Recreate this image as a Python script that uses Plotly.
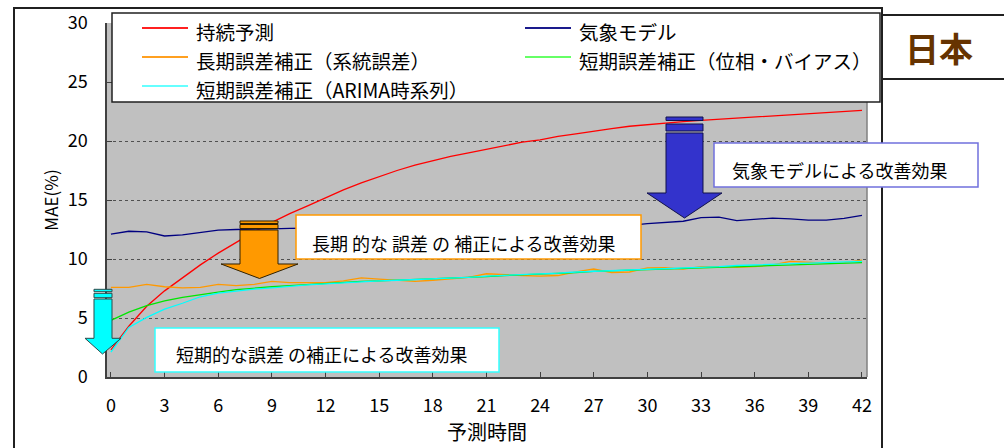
import plotly.graph_objects as go

# ---------------- data ----------------
hours = list(range(43))
x_tick_labels = [0, 3, 6, 9, 12, 15, 18, 21, 24, 27, 30, 33, 36, 39, 42]
y_tick_labels = [0, 5, 10, 15, 20, 25, 30]

series_names = ["持続予測", "気象モデル", "長期誤差補正（系統誤差）",
                "短期誤差補正（位相・バイアス）", "短期誤差補正（ARIMA時系列）"]

persistence = [2.3, 4.3, 6.0, 7.3, 8.4, 9.5, 10.5, 11.4, 12.3, 13.1,
               13.85, 14.5, 15.2, 15.85, 16.45, 17.0, 17.5, 17.95, 18.35, 18.7,
               19.0, 19.3, 19.6, 19.9, 20.1, 20.4, 20.6, 20.85, 21.05, 21.25,
               21.4, 21.55, 21.65, 21.75, 21.85, 21.95, 22.0, 22.1, 22.2, 22.3,
               22.4, 22.5, 22.6]
weather_model = [12.1, 12.35, 12.3, 11.95, 12.05, 12.25, 12.45, 12.5, 12.5, 12.55,
                 12.6, 12.6, 12.65, 12.65, 12.7, 12.7, 12.7, 12.75, 12.75, 12.75,
                 12.8, 12.8, 12.8, 12.8, 12.85, 12.85, 12.85, 12.85, 12.85, 12.85,
                 13.0, 13.1, 13.2, 13.5, 13.55, 13.25, 13.35, 13.47, 13.4, 13.3,
                 13.3, 13.45, 13.7]
long_term_corr = [7.6, 7.6, 7.85, 7.65, 7.55, 7.6, 7.85, 7.75, 7.85, 8.1,
                  8.0, 8.0, 8.0, 8.15, 8.4, 8.3, 8.2, 8.1, 8.2, 8.3,
                  8.45, 8.75, 8.65, 8.6, 8.55, 8.6, 8.9, 9.15, 8.85, 8.9,
                  9.25, 9.27, 9.15, 9.35, 9.35, 9.3, 9.35, 9.5, 9.8, 9.75,
                  9.65, 9.7, 9.9]
short_phase_bias = [4.8, 5.5, 6.05, 6.45, 6.75, 7.0, 7.2, 7.4, 7.55, 7.65,
                    7.75, 7.85, 7.95, 8.0, 8.1, 8.15, 8.2, 8.25, 8.3, 8.4,
                    8.45, 8.5, 8.6, 8.65, 8.7, 8.75, 8.85, 8.95, 9.0, 9.05,
                    9.15, 9.2, 9.25, 9.3, 9.35, 9.4, 9.45, 9.5, 9.55, 9.6,
                    9.65, 9.65, 9.7]
short_arima = [2.1, 4.2, 5.05, 5.75, 6.25, 6.8, 7.1, 7.3, 7.45, 7.55,
               7.7, 7.8, 7.9, 8.0, 8.1, 8.15, 8.2, 8.25, 8.3, 8.4,
               8.45, 8.55, 8.6, 8.65, 8.7, 8.8, 8.9, 8.95, 9.0, 9.1,
               9.15, 9.2, 9.25, 9.3, 9.35, 9.45, 9.5, 9.55, 9.6, 9.65,
               9.7, 9.75, 9.8]

series_values = [persistence, weather_model, long_term_corr, short_phase_bias, short_arima]
series_colors = ["#ff0000", "#000080", "#ff9900", "#00e600", "#00ffff"]
legend_swatch_colors = ["#ff2020", "#1a1a8c", "#ffa020", "#66ff66", "#66ffff"]

note_weather = "気象モデルによる改善効果"
note_long = "長期 的な 誤差 の 補正による改善効果"
note_short = "短期的な誤差 の補正による改善効果"
region_label = "日本"

# ---------------- layout helpers (pixel -> paper) ----------------
L, R, T, B = 107, 867, 23, 377
W, H = R - L, B - T


def px(x):
    return (x - L) / W


def py(y):
    return (B - y) / H


def path(pts):
    return "M " + " L ".join(f"{px(a):.5f},{py(b):.5f}" for a, b in pts) + " Z"


FONT = "Noto Sans CJK JP"

fig = go.Figure()
for name, vals, col in zip(series_names, series_values, series_colors):
    fig.add_trace(go.Scatter(x=hours, y=vals, mode="lines", name=name,
                             line=dict(color=col, width=1.3), showlegend=False))

shapes = []
annotations = []
# outer frame
shapes.append(dict(type="path", xref="paper", yref="paper",
                   path=f"M {px(14)},{py(470)} L {px(14)},{py(8)} L {px(882)},{py(8)} L {px(882)},{py(470)}",
                   line=dict(color="#202020", width=2), fillcolor="rgba(0,0,0,0)"))
# region label box lines
for yy in (15, 79):
    shapes.append(dict(type="line", xref="paper", yref="paper",
                       x0=px(882), x1=px(1010), y0=py(yy), y1=py(yy),
                       line=dict(color="#202020", width=2)))
# plot area right border
shapes.append(dict(type="line", xref="paper", yref="paper", x0=1, x1=1, y0=0, y1=1,
                   line=dict(color="#808080", width=1.5)))

# legend (drawn box, swatches and labels)
shapes.append(dict(type="rect", xref="paper", yref="paper",
                   x0=px(112), x1=px(880), y0=py(102), y1=py(13),
                   fillcolor="white", line=dict(color="#202020", width=1.5)))
legend_slots = [(142, 28, 31), (525, 28, 31), (142, 57, 60.5), (525, 57, 60.5), (142, 86, 90)]
for (lx, ly, ty), name, col in zip(legend_slots, series_names, legend_swatch_colors):
    shapes.append(dict(type="line", xref="paper", yref="paper",
                       x0=px(lx), x1=px(lx + 46), y0=py(ly), y1=py(ly),
                       line=dict(color=col, width=2)))
    annotations.append(dict(text=name, x=px(lx + 52), y=py(ty), xref="paper", yref="paper",
                            showarrow=False, xanchor="left", yanchor="middle",
                            font=dict(size=19.5, family=FONT, color="black")))

# text boxes
shapes.append(dict(type="rect", xref="paper", yref="paper",
                   x0=px(714), x1=px(978), y0=py(187), y1=py(143),
                   fillcolor="white", line=dict(color="#7070dd", width=1.5)))
shapes.append(dict(type="rect", xref="paper", yref="paper",
                   x0=px(296), x1=px(641), y0=py(259), y1=py(215),
                   fillcolor="white", line=dict(color="#ff9900", width=1.5)))
shapes.append(dict(type="rect", xref="paper", yref="paper",
                   x0=px(155), x1=px(499), y0=py(372), y1=py(328),
                   fillcolor="white", line=dict(color="#33ffff", width=1.5)))


def arrow(xl, xr, s1, s2, top, head_y, hl, hr, tip, fill, edge):
    out = []
    for (a, b) in (s1, s2):
        out.append(dict(type="path", xref="paper", yref="paper",
                        path=path([(xl, a), (xr, a), (xr, b), (xl, b)]),
                        fillcolor=fill, line=dict(color=edge, width=1)))
    out.append(dict(type="path", xref="paper", yref="paper",
                    path=path([(xl, top), (xr, top), (xr, head_y), (hr, head_y),
                               tip, (hl, head_y), (xl, head_y)]),
                    fillcolor=fill, line=dict(color=edge, width=1)))
    return out


shapes += arrow(666, 703, (117, 120.5), (124, 131), 133, 193, 647, 722, (684.5, 218), "#3333cc", "#10104a")
shapes += arrow(240, 278, (221, 223.5), (224.5, 228.5), 230, 264, 221, 298, (259.5, 278.5), "#ff9900", "#302000")
shapes += arrow(94, 112, (289.3, 291.7), (293.3, 297.7), 299, 338.3, 85, 121, (102.5, 354), "#00ffff", "#2a4a4a")

annotations += [
    dict(text=note_weather, x=px(839), y=py(170), xref="paper", yref="paper",
         showarrow=False, xanchor="center", yanchor="middle", font=dict(size=18, family=FONT, color="black")),
    dict(text=note_long, x=px(464), y=py(242.5), xref="paper", yref="paper",
         showarrow=False, xanchor="center", yanchor="middle", font=dict(size=18, family=FONT, color="black")),
    dict(text=note_short, x=px(321.5), y=py(354), xref="paper", yref="paper",
         showarrow=False, xanchor="center", yanchor="middle", font=dict(size=18, family=FONT, color="black")),
    dict(text=region_label, x=px(939), y=py(47.5), xref="paper", yref="paper",
         showarrow=False, xanchor="center", yanchor="middle",
         font=dict(size=34, family=FONT, color="#663300", weight="bold")),
]

fig.update_layout(
    width=1004, height=448,
    margin=dict(l=L, r=1004 - R, t=T, b=448 - B, autoexpand=False),
    paper_bgcolor="white", plot_bgcolor="#c0c0c0",
    font=dict(family=FONT, color="black"),
    showlegend=False,
    shapes=shapes, annotations=annotations,
    xaxis=dict(range=[-0.22, 42.28], tickvals=x_tick_labels, ticktext=[str(v) for v in x_tick_labels],
               ticks="inside", ticklen=5, tickcolor="#404040", showgrid=False,
               showline=True, linecolor="#404040", linewidth=1.5, zeroline=False,
               tickfont=dict(size=18), ticklabelstandoff=12, automargin=False,
               title=dict(text="予測時間", font=dict(size=20), standoff=10)),
    yaxis=dict(range=[0, 30], tickvals=y_tick_labels, ticktext=[str(v) for v in y_tick_labels],
               ticks="inside", ticklen=5, tickcolor="#404040",
               showgrid=True, gridcolor="#505050", griddash="dot", gridwidth=1,
               showline=True, linecolor="#404040", linewidth=1.5, zeroline=False,
               tickfont=dict(size=18), ticklabelstandoff=14, automargin=False,
               title=dict(text="MAE(%)", font=dict(size=17), standoff=5)),
)

fig.write_html("out.html")
